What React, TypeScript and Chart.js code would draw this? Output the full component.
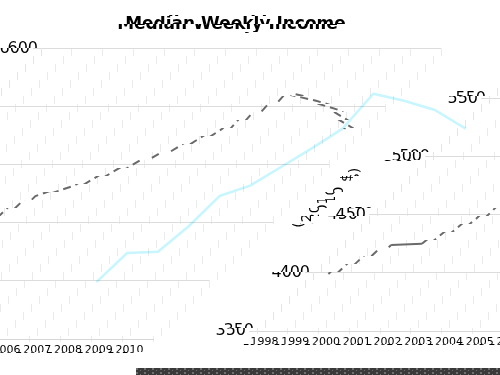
import React, { useEffect, useRef } from 'react';
import { Chart, registerables } from 'chart.js';

Chart.register(...registerables);

// ---- data ----
const years = ['1998', '1999', '2000', '2001', '2002', '2003', '2004', '2005', '2006', '2007', '2008', '2009', '2010'];
const income = [399, 424, 425, 447, 473, 482, 498, 514, 531, 561, 555, 547, 531];
const yTickMin = 350;
const yTickMax = 600;
const yTickStep = 50;
const chartTitle = 'Median Weekly Income';
const yAxisTitle = '(2010 $)';

// block remapping parameters (8x8 blocks, source 62 blocks wide, shown 63 wide)
const SRC_COLS = 62;
const DST_COLS = 63;
const SRC_ROWS = 47;
const BLOCK_OFFSET = -1;

const FONT = "'DejaVu Sans', sans-serif";

const remapPlugin = {
  id: 'remap',
  beforeDraw(chart: any) {
    const ctx = chart.ctx;
    ctx.save();
    ctx.fillStyle = '#ffffff';
    ctx.fillRect(0, 0, chart.width, chart.height);
    ctx.restore();
  },
  afterDraw(chart: any) {
    const ctx = chart.ctx;
    const W = chart.width;
    const H = chart.height;

    // y axis title (rotated), slightly below the centre of the plot
    const area = chart.chartArea;
    ctx.save();
    ctx.translate(19, (area.top + area.bottom) / 2 + 12);
    ctx.rotate(-Math.PI / 2);
    ctx.fillStyle = '#000';
    ctx.font = `14px ${FONT}`;
    ctx.textAlign = 'center';
    ctx.textBaseline = 'middle';
    ctx.fillText(yAxisTitle, 0, 0);
    ctx.restore();

    const src = ctx.getImageData(0, 0, W, H);
    const out = ctx.createImageData(W, H);
    const s = src.data;
    const d = out.data;
    const total = SRC_COLS * SRC_ROWS;
    for (let yd = 0; yd < H; yd++) {
      const R = yd >> 3;
      for (let xd = 0; xd < W; xd++) {
        const C = xd >> 3;
        const n = R * DST_COLS + C + BLOCK_OFFSET;
        const di = (yd * W + xd) * 4;
        if (n >= total) {
          const light = ((xd & 7) < 2 && (yd & 3) < 2) || ((xd & 7) === 4 && (yd & 3) === 2);
          const v = light ? 110 : 58;
          d[di] = v; d[di + 1] = v; d[di + 2] = v; d[di + 3] = 255;
          continue;
        }
        if (n < 0) {
          d[di] = 255; d[di + 1] = 255; d[di + 2] = 255; d[di + 3] = 255;
          continue;
        }
        const r = Math.floor(n / SRC_COLS);
        const c = n % SRC_COLS;
        const xo = c * 8 + (xd & 7);
        const yo = r * 8 + (yd & 7);
        if (xo >= W || yo >= H) {
          d[di] = 255; d[di + 1] = 255; d[di + 2] = 255; d[di + 3] = 255;
          continue;
        }
        const si = (yo * W + xo) * 4;
        d[di] = s[si]; d[di + 1] = s[si + 1]; d[di + 2] = s[si + 2]; d[di + 3] = 255;
      }
    }
    ctx.putImageData(out, 0, 0);

    // colour trace of the line, left in place
    const meta = chart.getDatasetMeta(0);
    ctx.save();
    ctx.globalCompositeOperation = 'multiply';
    ctx.strokeStyle = 'rgb(200,246,255)';
    ctx.lineWidth = 2.5;
    ctx.lineJoin = 'round';
    ctx.setLineDash([]);
    ctx.beginPath();
    meta.data.forEach((p: any, i: number) => {
      if (i === 0) ctx.moveTo(p.x, p.y);
      else ctx.lineTo(p.x, p.y);
    });
    ctx.stroke();
    ctx.restore();
  },
};

export default function App() {
  const ref = useRef<HTMLCanvasElement | null>(null);

  useEffect(() => {
    document.body.style.margin = '0';
    const canvas = ref.current;
    if (!canvas) return;
    const chart = new Chart(canvas, {
      type: 'line',
      data: {
        labels: years,
        datasets: [
          {
            label: 'Median weekly income',
            data: income,
            borderColor: '#6a6a6a',
            borderWidth: 2,
            borderDash: [8, 5],
            pointRadius: 0,
            tension: 0,
            fill: false,
            segment: {
              borderDash: (c: any) => (c.p0DataIndex === 1 ? [] : [8, 5]),
            },
          },
        ],
      },
      options: {
        responsive: false,
        animation: false,
        devicePixelRatio: 1,
        events: [],
        layout: { padding: { left: 6, right: 19, top: 0, bottom: 0 } },
        plugins: {
          legend: { display: false },
          tooltip: { enabled: false },
          title: {
            display: true,
            text: chartTitle,
            color: '#000',
            font: { family: FONT, size: 17, weight: 'bold' },
            padding: { top: 14, bottom: 14 },
          },
        },
        scales: {
          x: {
            type: 'category',
            offset: true,
            grid: { offset: true, color: '#ebebeb', tickLength: 3, drawTicks: true },
            border: { color: '#d6d6d6' },
            ticks: {
              color: '#000',
              font: { family: FONT, size: 11 },
              maxRotation: 0,
              minRotation: 0,
              autoSkip: false,
              padding: 2,
            },
            afterFit: (scale: any) => {
              scale.height = 36;
            },
          },
          y: {
            min: yTickMin,
            max: yTickMax,
            grid: { color: '#dcdcdc', tickLength: 8 },
            border: { color: '#e4e4e4' },
            ticks: {
              stepSize: yTickStep,
              color: '#000',
              font: { family: FONT, size: 16 },
              padding: 3,
            },
            afterFit: (scale: any) => {
              scale.width = 75;
            },
          },
        },
      },
      plugins: [remapPlugin],
    } as any);
    return () => chart.destroy();
  }, []);

  return (
    <div style={{ width: 500, height: 375 }}>
      <canvas ref={ref} width={500} height={375} style={{ display: 'block' }} />
    </div>
  );
}
